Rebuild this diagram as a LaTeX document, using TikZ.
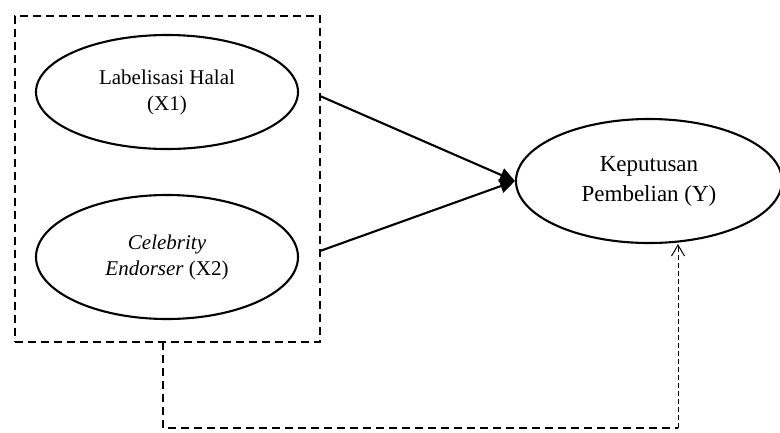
\documentclass[tikz,border=0pt]{standalone}
\usepackage{fontspec}
\setmainfont{Liberation Serif}
\usetikzlibrary{shapes.geometric,arrows.meta}
\begin{document}
\begin{tikzpicture}[x=1pt,y=-1pt,
  ell/.style={draw,ellipse,line width=2.1pt,inner sep=0pt,align=center,
    font=\fontsize{21}{26}\selectfont},
  grp/.style={draw,line width=2.5pt,dash pattern=on 8pt off 5pt,inner sep=0pt},
  solidarrow/.style={line width=2.1pt,-{Triangle[length=15pt,width=14pt]}},
  thickdash/.style={line width=2.5pt,dash pattern=on 8pt off 5pt},
  thindash/.style={line width=1pt,dash pattern=on 5pt off 3pt,
    -{Straight Barb[length=11pt,width=13pt,line width=1pt]}}]
\useasboundingbox (0,0) rectangle (780,432);
\node[grp,minimum width=305pt,minimum height=326pt] (box) at (167.5,179) {};
\node[ell,minimum width=262pt,minimum height=114pt] (x1) at (167,92)
  {Labelisasi Halal\\(X1)};
\node[ell,minimum width=262pt,minimum height=124pt] (x2) at (167,257)
  {\textit{Celebrity}\\\textit{Endorser} (X2)};
\node[ell,minimum width=266pt,minimum height=124pt,font=\fontsize{23}{30}\selectfont] (y) at (649,181)
  {Keputusan\\Pembelian (Y)};
\coordinate (s1) at (320,96);
\coordinate (s2) at (320,251);
\coordinate (d0) at (163,342);
\coordinate (d1) at (163,428);
\coordinate (d2) at (678,428);
\draw[solidarrow] (s1) -- (y.west);
\draw[solidarrow] (s2) -- (y.west);
\draw[thickdash] (d0) -- (d1) -- (d2);
\draw[thindash] (d2) -- (d2 |- y.south);
\end{tikzpicture}
\end{document}
